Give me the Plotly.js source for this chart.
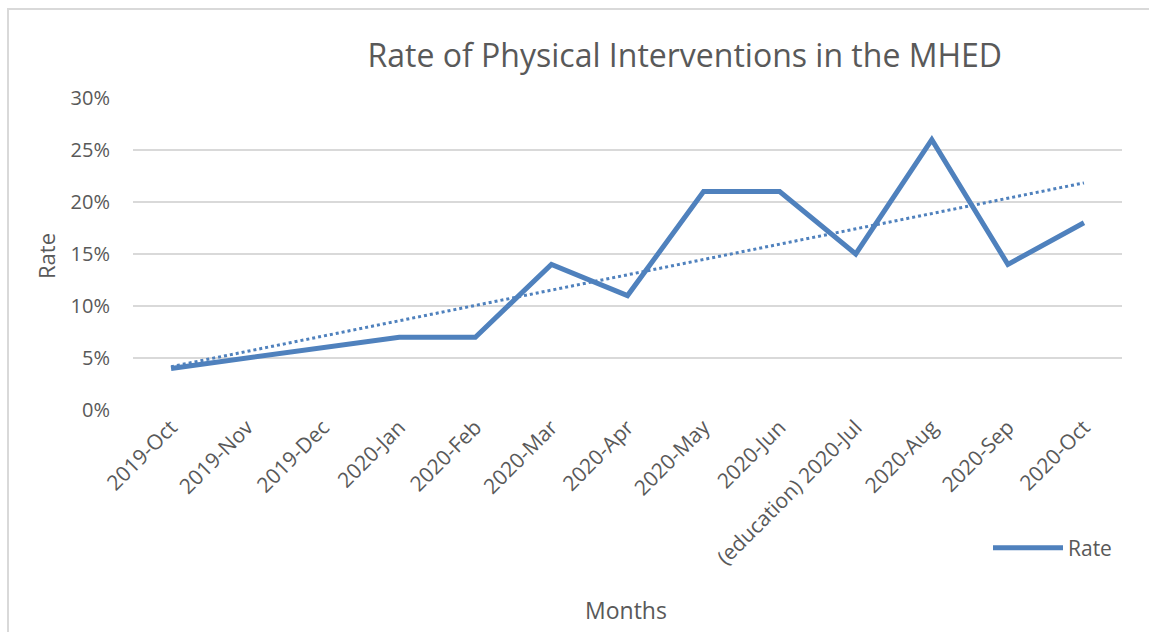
<!DOCTYPE html>
<html>
<head>
<meta charset="utf-8">
<script src="https://cdn.plot.ly/plotly-3.0.1.min.js"></script>
<style>
html,body{margin:0;padding:0;background:#fff;overflow:hidden;}
#chart{width:1149px;height:632px;}
#frame{position:absolute;left:7px;top:8px;width:1170px;height:660px;border:2px solid #d9d9d9;pointer-events:none;}
</style>
</head>
<body>
<div id="chart"></div>
<div id="frame"></div>
<script>
const months = ["2019-Oct","2019-Nov","2019-Dec","2020-Jan","2020-Feb","2020-Mar","2020-Apr","2020-May","2020-Jun","(education) 2020-Jul","2020-Aug","2020-Sep","2020-Oct"];
const rate = [0.04,0.05,0.06,0.07,0.07,0.14,0.11,0.21,0.21,0.15,0.26,0.14,0.18];
const yTicks = [0,0.05,0.10,0.15,0.20,0.25,0.30];
const yTickText = ["0%","5%","10%","15%","20%","25%","30%"];

// Linear trendline (least squares) derived from the data
const n = rate.length;
const xs = rate.map((_, i) => i);
const mx = xs.reduce((a,b)=>a+b,0)/n;
const my = rate.reduce((a,b)=>a+b,0)/n;
let sxy = 0, sxx = 0;
for (let i = 0; i < n; i++) { sxy += (xs[i]-mx)*(rate[i]-my); sxx += (xs[i]-mx)*(xs[i]-mx); }
const slope = sxy/sxx, intercept = my - slope*mx;
const trend = xs.map(x => intercept + slope*x);

const blue = '#4f81bd';
const grey = '#595959';
const font = 'Open Sans, Noto Sans, sans-serif';

const traces = [
  {x: months, y: trend, type: 'scatter', mode: 'lines', name: 'Linear (Rate)', showlegend: false,
   line: {color: blue, width: 3, dash: 'dot'}, hoverinfo: 'skip'},
  {x: months, y: rate, type: 'scatter', mode: 'lines', name: 'Rate',
   line: {color: blue, width: 5, shape: 'linear'}}
];

const L = 133, R = 1122, T = 98, B = 410;
const px = v => (v - L) / (R - L);
const py = v => (B - v) / (B - T);

const layout = {
  width: 1149, height: 632,
  margin: {l: L, r: 1149 - R, t: T, b: 632 - B},
  paper_bgcolor: '#fff', plot_bgcolor: '#fff',
  font: {family: font, color: grey},
  title: {text: 'Rate of Physical Interventions in the MHED', font: {size: 32, color: grey, family: font},
          x: 0.596, xref: 'container', xanchor: 'center', y: 0.912, yref: 'container', yanchor: 'middle'},
  xaxis: {type: 'category', categoryorder: 'array', categoryarray: months,
          range: [-0.5, 12.5], tickangle: -45, tickfont: {size: 21, color: grey},
          showgrid: false, zeroline: false, showline: false, ticks: '', ticklen: 0,
          title: {text: ''}},
  yaxis: {range: [0, 0.30], tickvals: yTicks, ticktext: yTickText, tickfont: {size: 20, color: grey},
          showgrid: true, gridcolor: '#d9d9d9', gridwidth: 1.5, zeroline: false, showline: false,
          ticks: '', ticklabelstandoff: 22, title: {text: ''}},
  showlegend: true,
  legend: {x: px(988), xanchor: 'left', y: py(548), yanchor: 'middle', orientation: 'v',
           font: {size: 21, color: grey}, bgcolor: 'rgba(0,0,0,0)', itemwidth: 70},
  annotations: [
    {text: 'Months', xref: 'paper', yref: 'paper', x: px(626), y: py(610),
     xanchor: 'center', yanchor: 'middle', showarrow: false, font: {size: 23, color: grey}},
    {text: 'Rate', xref: 'paper', yref: 'paper', x: px(46), y: py(256),
     xanchor: 'center', yanchor: 'middle', showarrow: false, textangle: -90, font: {size: 22, color: grey}}
  ]
};

Plotly.newPlot('chart', traces, layout, {displayModeBar: false, staticPlot: true});
</script>
</body>
</html>
